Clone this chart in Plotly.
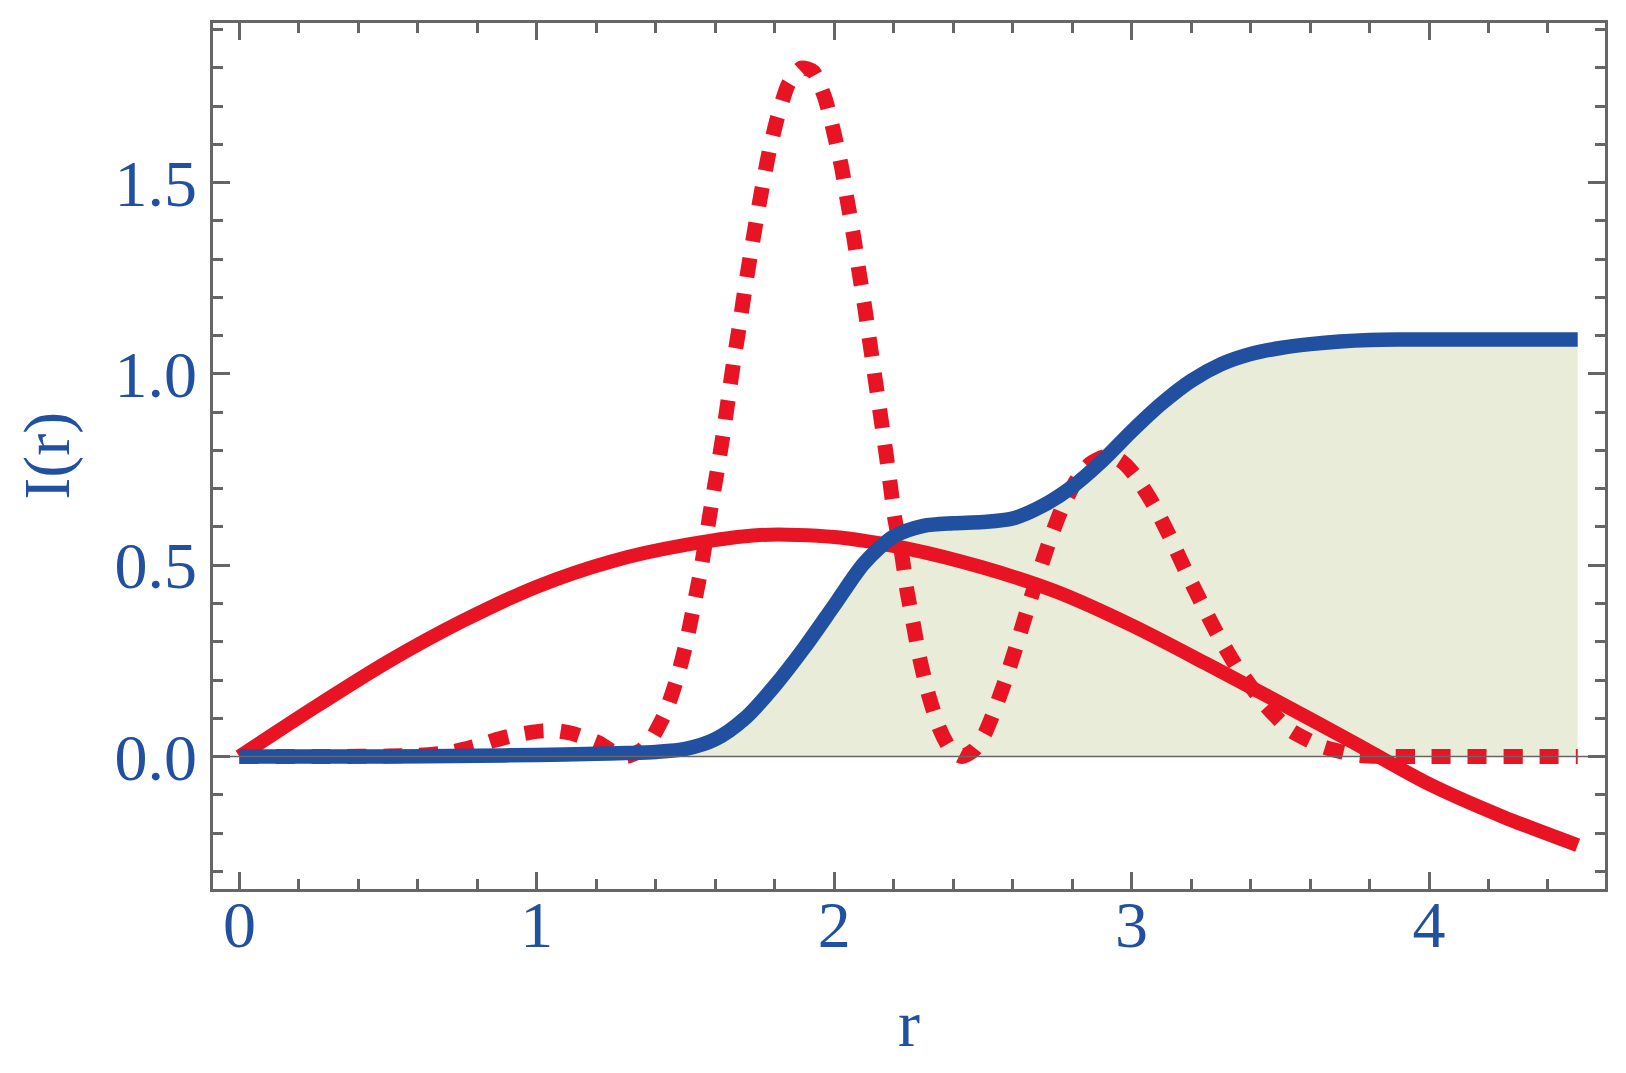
import plotly.graph_objects as go

# ---------------- data ----------------
r_solid = [0, 0.25, 0.5, 0.75, 1.0, 1.25, 1.5, 1.75, 2.0, 2.25, 2.5, 2.75,
           3.0, 3.25, 3.5, 3.75, 4.0, 4.25, 4.5]
i_solid = [0, 0.127, 0.248, 0.354, 0.444, 0.51, 0.553, 0.579, 0.574, 0.543,
           0.494, 0.43, 0.343, 0.243, 0.14, 0.035, -0.072, -0.158, -0.232]

r_blue = [0, 0.5, 0.8, 1.0, 1.2, 1.3, 1.4, 1.5, 1.6, 1.7, 1.8, 1.9, 2.0,
          2.1, 2.2, 2.3, 2.4, 2.5, 2.6, 2.7, 2.8, 2.9, 3.0, 3.1, 3.2, 3.3,
          3.4, 3.5, 3.6, 3.7, 3.8, 3.9, 4.0, 4.5]
i_blue = [0, 0.0, 0.002, 0.004, 0.007, 0.009, 0.012, 0.02, 0.045, 0.10,
          0.185, 0.285, 0.395, 0.505, 0.575, 0.603, 0.61, 0.613, 0.622, 0.655,
          0.705, 0.772, 0.85, 0.922, 0.982, 1.025, 1.052, 1.068, 1.078,
          1.085, 1.089, 1.09, 1.09, 1.09]

r_dot = [0, 0.3, 0.5, 0.6, 0.7, 0.75, 0.8, 0.86, 0.92, 0.97, 1.02, 1.07,
         1.12, 1.185, 1.21, 1.25, 1.3, 1.35, 1.39, 1.433, 1.472, 1.502,
         1.526, 1.549, 1.588, 1.608, 1.627, 1.644, 1.661, 1.68, 1.698,
         1.717, 1.737, 1.758, 1.781, 1.809, 1.846, 1.89, 1.93, 1.969,
         1.999, 2.025, 2.045, 2.066, 2.084, 2.103, 2.117, 2.174, 2.188,
         2.204, 2.227, 2.244, 2.266, 2.288, 2.316, 2.353, 2.39, 2.43, 2.47,
         2.507, 2.537, 2.577, 2.614, 2.649, 2.686, 2.721, 2.763, 2.815,
         2.86, 2.91, 2.96, 3.006, 3.071, 3.126, 3.176, 3.228, 3.283, 3.353,
         3.449, 3.533, 3.639, 3.754, 3.85, 4.0, 4.5]
i_dot = [0, 0, 0.001, 0.003, 0.01, 0.018, 0.028, 0.043, 0.055, 0.062,
         0.067, 0.067, 0.06, 0.043, 0.035, 0.015, 0.0, 0.016, 0.052, 0.116,
         0.206, 0.296, 0.387, 0.477, 0.662, 0.753, 0.845, 0.936, 1.028,
         1.12, 1.213, 1.305, 1.397, 1.488, 1.58, 1.67, 1.758, 1.80, 1.79,
         1.721, 1.631, 1.54, 1.449, 1.357, 1.265, 1.173, 1.097, 0.794,
         0.714, 0.621, 0.529, 0.437, 0.346, 0.255, 0.165, 0.075, 0.02, 0.0,
         0.017, 0.061, 0.117, 0.203, 0.293, 0.383, 0.475, 0.557, 0.644,
         0.723, 0.765, 0.784, 0.775, 0.74, 0.662, 0.579, 0.495, 0.412,
         0.328, 0.235, 0.135, 0.069, 0.027, 0.004, 0.0, 0.0, 0.0]

x_ticks = [0, 1, 2, 3, 4]
x_ticklabels = ["0", "1", "2", "3", "4"]
y_ticks = [0.0, 0.5, 1.0, 1.5]
y_ticklabels = ["0.0", "0.5", "1.0", "1.5"]

X_RANGE = [-0.0888, 4.5918]
Y_RANGE = [-0.3464, 1.9176]

# ---------------- styles ----------------
RED = "rgb(232,20,35)"
BLUE = "rgb(33,80,160)"
FILL = "rgb(232,236,216)"
GRAY = "#666666"
FONT = "Liberation Serif, Times New Roman, serif"
FS = 66

fig = go.Figure()

# filled area under the blue curve
fig.add_trace(go.Scatter(x=r_blue, y=i_blue, mode="lines", fill="tozeroy",
                         fillcolor=FILL, line=dict(width=0, color=FILL,
                                                   shape="spline", smoothing=0.8),
                         hoverinfo="skip", showlegend=False))
# red solid
fig.add_trace(go.Scatter(x=r_solid, y=i_solid, mode="lines",
                         line=dict(color=RED, width=14, shape="spline", smoothing=0.8),
                         showlegend=False))
# red dotted
fig.add_trace(go.Scatter(x=r_dot, y=i_dot, mode="lines",
                         line=dict(color=RED, width=15, dash="19px,17px",
                                   shape="spline", smoothing=0.6),
                         showlegend=False))
# blue solid
fig.add_trace(go.Scatter(x=r_blue, y=i_blue, mode="lines",
                         line=dict(color=BLUE, width=14.5, shape="spline", smoothing=0.8),
                         showlegend=False))

# zero reference line on top
fig.add_hline(y=0, line=dict(color=GRAY, width=1.6), layer="above")

axis_common = dict(
    showline=True, linecolor=GRAY, linewidth=2.5, mirror="ticks",
    ticks="inside", ticklen=17, tickwidth=2.5, tickcolor=GRAY,
    showgrid=False, zeroline=False,
    tickfont=dict(family=FONT, size=FS, color=BLUE),
    layer="above traces",
)

fig.update_xaxes(range=X_RANGE, tickmode="array", tickvals=x_ticks,
                 ticktext=x_ticklabels, ticklabelstandoff=-24,
                 minor=dict(dtick=0.2, tick0=0, ticks="inside", ticklen=10,
                            tickwidth=2.5, tickcolor=GRAY, showgrid=False),
                 **axis_common)
fig.update_yaxes(range=Y_RANGE, tickmode="array", tickvals=y_ticks,
                 ticktext=y_ticklabels,
                 minor=dict(dtick=0.1, tick0=0, ticks="inside", ticklen=10,
                            tickwidth=2.5, tickcolor=GRAY, showgrid=False),
                 **axis_common)

# page body has an 8px margin in the browser -> compensate
fig.update_layout(
    width=1618, height=1065,
    margin=dict(l=205, r=21, t=15, b=184, pad=0),
    paper_bgcolor="white", plot_bgcolor="white",
    showlegend=False,
    annotations=[
        dict(text="r", xref="paper", yref="paper", x=0.5, y=-0.155,
             xanchor="center", yanchor="middle", showarrow=False,
             font=dict(family=FONT, size=FS, color=BLUE)),
        dict(text="I(r)", xref="paper", yref="paper", x=-0.1195, y=0.5,
             xanchor="center", yanchor="middle", showarrow=False, textangle=-90,
             font=dict(family=FONT, size=FS, color=BLUE)),
    ],
)

fig.write_html("out.html")
